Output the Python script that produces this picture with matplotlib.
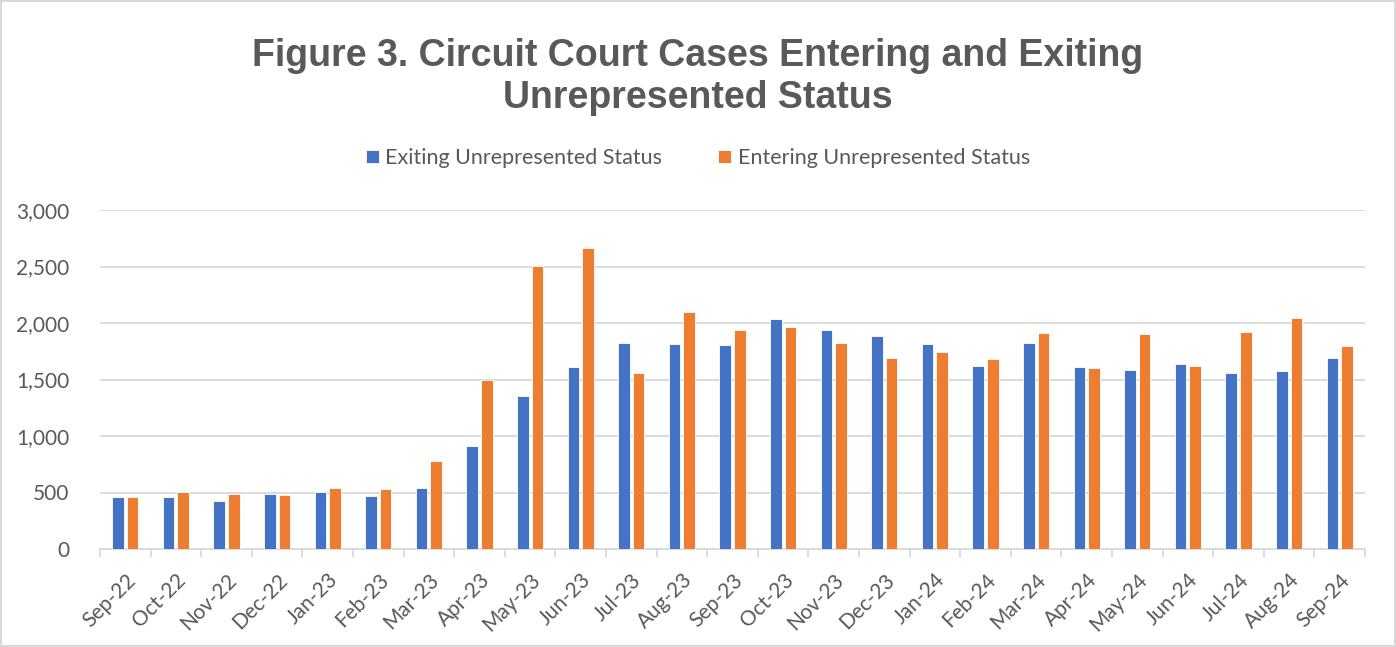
import numpy as np
import matplotlib.pyplot as plt

# Data
months = ['Sep-22', 'Oct-22', 'Nov-22', 'Dec-22', 'Jan-23', 'Feb-23', 'Mar-23',
          'Apr-23', 'May-23', 'Jun-23', 'Jul-23', 'Aug-23', 'Sep-23', 'Oct-23',
          'Nov-23', 'Dec-23', 'Jan-24', 'Feb-24', 'Mar-24', 'Apr-24', 'May-24',
          'Jun-24', 'Jul-24', 'Aug-24', 'Sep-24']
exiting = [463, 457, 425, 490, 504, 466, 540, 909, 1357, 1611, 1820, 1811, 1805,
           2035, 1941, 1885, 1811, 1619, 1820, 1608, 1584, 1634, 1558, 1575, 1690]
entering = [457, 504, 487, 475, 537, 528, 776, 1493, 2502, 2661, 1560, 2095, 1938,
            1967, 1823, 1693, 1743, 1684, 1909, 1599, 1903, 1619, 1920, 2047, 1796]

BLUE = '#4472C4'
ORANGE = '#ED7D31'
TXT = '#595959'

plt.rcParams['font.family'] = ['Lato', 'DejaVu Sans']

fig = plt.figure(figsize=(13.96, 6.47), dpi=100)
fig.patch.set_edgecolor('#d9d9d9')
fig.patch.set_linewidth(1.5)
ax = fig.add_axes([100 / 1396, 1 - 549 / 647, 1265 / 1396, 339 / 647])

x = np.arange(len(months))
w = 0.23
off = 0.145
ax.bar(x - off, exiting, w, color=BLUE, edgecolor='white', linewidth=0.6,
       label='Exiting Unrepresented Status', zorder=3)
ax.bar(x + off, entering, w, color=ORANGE, edgecolor='white', linewidth=0.6,
       label='Entering Unrepresented Status', zorder=3)

ax.set_xlim(-0.5, len(months) - 0.5)
ax.set_ylim(0, 3000)
ax.set_yticks(range(0, 3001, 500))
ax.set_yticklabels([f'{v:,}' for v in range(0, 3001, 500)])
ax.grid(axis='y', color='#d9d9d9', linewidth=1.3, zorder=0)

ax.set_xticks(x)
ax.set_xticklabels(months, rotation=45, ha='right', rotation_mode='anchor')
ax.set_xticks(np.arange(-0.5, len(months)), minor=True)
ax.tick_params(axis='x', which='major', length=0, pad=15, labelsize=15, colors=TXT)
ax.tick_params(axis='x', which='minor', length=6, color='#d9d9d9', width=1.3)
ax.tick_params(axis='y', length=0, pad=22, labelsize=15, colors=TXT)

for s in ['top', 'right', 'left']:
    ax.spines[s].set_visible(False)
ax.spines['bottom'].set_color('#d9d9d9')
ax.spines['bottom'].set_linewidth(1.3)

fig.text(0.5, 1 - 77 / 647, 'Figure 3. Circuit Court Cases Entering and Exiting\nUnrepresented Status',
         ha='center', va='center', fontsize=27, fontweight='bold', color=TXT,
         family=['Liberation Sans', 'DejaVu Sans'], linespacing=1.18)

fig.legend(loc='center', bbox_to_anchor=(0.5, 1 - 158 / 647), ncol=2, frameon=False,
           fontsize=15.5, labelcolor=TXT, handlelength=0.6, handleheight=0.6,
           columnspacing=2.6, handletextpad=0.3)

plt.savefig('out.png', dpi=100)
